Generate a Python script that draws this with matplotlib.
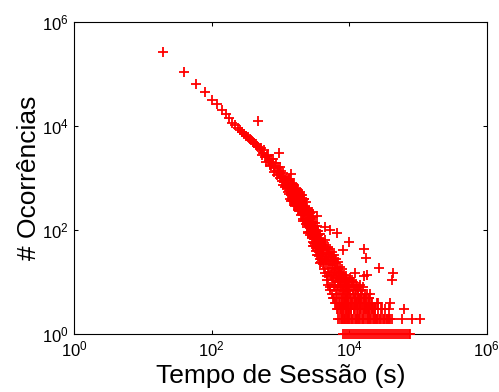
import matplotlib
matplotlib.use('Agg')
from matplotlib import pyplot as plt
from matplotlib.ticker import NullLocator

# ------------------------------ #
# session time histogram (bins of 20 s)

# clean head of the curve
head_t = [20, 40, 60, 80, 100, 120, 140, 160, 180, 200, 220, 240, 260,
          280, 300, 320, 340, 360, 380, 400, 420, 440, 460, 480, 500]
head_n = [266000, 107000, 63000, 44000, 32000, 26000, 20000, 17000, 14000,
          11500, 10200, 9200, 8400, 7700, 7100, 6500, 6100, 5700, 5300,
          5000, 4700, 4450, 4150, 3900, 3650]

# 520 s .. 1000 s
mid_t = [520, 540, 560, 580, 600, 620, 640, 660, 680, 700, 720, 740, 760,
         780, 800, 820, 840, 860, 880, 900, 920, 940, 960, 980, 1000]
mid_n = [3780, 2760, 3070, 3490, 2480, 2040, 2630, 2730, 2080, 1780, 2290,
         1690, 1910, 2300, 1590, 1280, 1720, 1900, 1370, 1150, 1630, 1170,
         1330, 1610, 1000]

# 1020 s .. 2000 s
band1_t = [1020, 1040, 1060, 1080, 1100, 1120, 1140, 1160, 1180, 1200,
           1220, 1240, 1260, 1280, 1300, 1320, 1340, 1360, 1380, 1400,
           1420, 1440, 1460, 1480, 1500, 1520, 1540, 1560, 1580, 1600,
           1620, 1640, 1660, 1680, 1700, 1720, 1740, 1760, 1780, 1800,
           1820, 1840, 1860, 1880, 1900, 1920, 1940, 1960, 1980, 2000]
band1_n = [1370, 890, 1050, 730, 1255, 855, 1030, 680, 905, 695,
           975, 635, 755, 530, 915, 950, 497, 668, 390, 950,
           522, 718, 383, 622, 417, 725, 382, 515, 301, 738,
           406, 562, 301, 490, 329, 574, 302, 410, 240, 589,
           326, 451, 242, 396, 266, 465, 246, 333, 196, 482]

band1b_t = [1410, 1430, 1450, 1470, 1490, 1510, 1530, 1550, 1570, 1590,
            1610, 1630, 1650, 1670, 1690, 1710, 1730, 1750, 1770, 1790,
            1810, 1830, 1850, 1870, 1890, 1910, 1930, 1950, 1970, 1990]
band1b_n = [475, 751, 365, 795, 507, 625, 366, 769, 426, 519,
            369, 586, 287, 625, 400, 494, 290, 611, 339, 415,
            295, 471, 231, 505, 323, 401, 235, 496, 276, 339]

# 2040 s .. 4000 s
band2_t = [2040, 2080, 2120, 2160, 2200, 2240, 2280, 2320, 2360, 2400,
           2440, 2480, 2520, 2560, 2600, 2640, 2680, 2720, 2760, 2800,
           2840, 2880, 2920, 2960, 3000, 3040, 3080, 3120, 3160, 3200,
           3240, 3280, 3320, 3360, 3400, 3440, 3480, 3520, 3560, 3600,
           3640, 3680, 3720, 3760, 3800, 3840, 3880, 3920, 3960, 4000]
band2_n = [464, 204, 288, 150, 403, 200, 283, 132, 228, 142,
           264, 117, 167, 88, 238, 119, 170, 80, 139, 88,
           181, 69, 107, 50, 176, 75, 116, 49, 94, 55,
           120, 46, 72, 33, 118, 51, 79, 33, 64, 38,
           83, 32, 50, 23, 83, 36, 56, 24, 46, 27]

band2b_t = [2060, 2100, 2140, 2180, 2220, 2260, 2300, 2340, 2380, 2420,
            2460, 2500, 2540, 2580, 2620, 2660, 2700, 2740, 2780, 2820,
            2860, 2900, 2940, 2980, 3020, 3060, 3100, 3140, 3180, 3220,
            3260, 3300, 3340, 3380, 3420, 3460, 3500, 3540, 3580, 3620,
            3660, 3700, 3740, 3780, 3820, 3860, 3900, 3940, 3980]
band2b_n = [232, 375, 160, 388, 225, 269, 148, 352, 167, 198,
            137, 220, 93, 229, 133, 161, 90, 214, 102, 122,
            85, 138, 59, 146, 86, 103, 57, 138, 67, 80,
            56, 92, 39, 98, 58, 71, 39, 95, 46, 56,
            39, 63, 28, 68, 41, 49, 28, 68, 33]

# 4100 s .. 10000 s
band3_t = [4100, 4200, 4300, 4400, 4500, 4600, 4700, 4800, 4900, 5000,
           5100, 5200, 5300, 5400, 5500, 5600, 5700, 5800, 5900, 6000,
           6100, 6200, 6300, 6400, 6500, 6600, 6700, 6800, 6900, 7000,
           7100, 7200, 7300, 7400, 7500, 7600, 7700, 7800, 7900, 8000,
           8100, 8200, 8300, 8400, 8500, 8600, 8700, 8800, 8900, 9000,
           9100, 9200, 9300, 9400, 9500, 9600, 9700, 9800, 9900, 10000]
band3_n = [60, 22, 41, 15, 66, 28, 35, 11, 48, 19,
           30, 8, 44, 14, 25, 6, 38, 12, 21, 5,
           33, 9, 17, 4, 28, 7, 13, 3, 24, 10,
           6, 16, 4, 20, 8, 3, 12, 5, 18, 2,
           9, 6, 14, 3, 7, 11, 4, 2, 8, 5,
           13, 3, 6, 9, 2, 4, 7, 10, 3, 5]

band3b_t = [4150, 4250, 4350, 4450, 4550, 4650, 4750, 4850, 4950, 5050,
            5150, 5250, 5350, 5450, 5550, 5650, 5750, 5850, 5950, 6050,
            6150, 6250, 6350, 6450, 6550, 6650, 6750, 6850, 6950, 7050,
            7150, 7250, 7350, 7450, 7550, 7650, 7750, 7850, 7950, 8050,
            8150, 8250, 8350, 8450, 8550, 8650, 8750, 8850, 8950, 9050,
            9150, 9250, 9350, 9450, 9550, 9650, 9750, 9850, 9950]
band3b_n = [35, 52, 18, 30, 24, 45, 13, 27, 9, 36,
            16, 22, 7, 31, 11, 19, 5, 26, 8, 15,
            4, 23, 6, 12, 3, 19, 5, 9, 2, 14,
            4, 8, 11, 3, 6, 15, 2, 9, 4, 12,
            3, 7, 5, 10, 2, 6, 8, 3, 12, 4,
            7, 2, 10, 5, 3, 8, 6, 2, 7]

# 10 ks .. 38 ks, low counts
tail_t = [10250, 10500, 10750, 11000, 11250, 11500, 11750, 12000, 12250,
          12500, 12750, 13000, 13250, 13500, 13750, 14000, 14250, 14500,
          14750, 15000, 15500, 16000, 16500, 17000, 17500, 18000, 18500,
          19000, 19500, 20000, 21000, 22000, 23000, 24000, 25000, 26000,
          28000, 30000, 32000, 35000, 38000]
tail_n = [12, 4, 8, 2, 6, 10, 3, 7, 5,
          2, 9, 4, 6, 3, 8, 2, 5, 4,
          7, 3, 6, 2, 5, 3, 4, 6, 2,
          3, 5, 2, 4, 3, 2, 3, 2, 4,
          2, 3, 2, 2, 2]

tail2_t = [10100, 10400, 10650, 10900, 11150, 11400, 11650, 11900, 12150,
           12400, 12650, 12900, 13150, 13400, 13650, 13900, 14150, 14400,
           14650, 14900, 15250, 15750, 16250, 16750, 17250, 17750, 18250,
           18750, 19250, 19750, 20500, 21500, 22500, 23500, 24500]
tail2_n = [9, 6, 3, 11, 4, 7, 5, 9, 3,
           6, 4, 8, 2, 5, 7, 4, 9, 3,
           5, 6, 4, 8, 3, 6, 4, 5, 3,
           4, 3, 5, 3, 4, 3, 3, 2]

# bins with 1, 2, 3, 4, 5 occurrences
one_t = [8100, 8700, 9300, 9900, 10600, 11400, 12100, 13000, 13900, 14800,
         15900, 17000, 18200, 19400, 20800, 22200, 23700, 25400, 27100,
         29000, 31000, 33200, 35500, 37900, 40600, 43400, 46400, 49600,
         53000, 56700, 60600, 64800, 69300, 74100, 76500]
two_t = [7340, 7850, 8400, 8980, 9610, 10280, 10990, 11750, 12560, 13430,
         14360, 15360, 16410, 17540, 18760, 20060, 21440, 22930, 24540,
         26240, 28050, 29990, 32060, 34280, 36640, 39170, 41880, 59600,
         81800, 106900]
three_t = [8000, 8900, 9800, 10800, 11900, 13100, 14500, 16000, 17600,
           19400, 21300, 23500, 26000, 29500, 33000, 37400, 62000]
four_t = [8500, 9700, 11100, 12700, 14600, 16800, 19300, 25300, 39000]
five_t = [9000, 10500, 12300, 14000, 16300]

# isolated points above the main band
out_t = [480, 960, 1420, 1920, 2880, 3400, 4450, 5260, 6650, 9900, 8130,
         16400, 17500, 27100, 43300, 41900, 12100, 16400, 18200, 20000]
out_n = [12400, 3060, 1190, 540, 222, 187, 114, 100, 88, 59, 41,
         43, 29, 19, 15, 11, 15, 13, 14, 6]


# ------------------------------ #

plt.rcParams['font.family'] = ['Liberation Sans', 'DejaVu Sans']
plt.rcParams['mathtext.fontset'] = 'custom'
plt.rcParams['mathtext.rm'] = 'Liberation Sans'
plt.rcParams['mathtext.default'] = 'regular'

fig = plt.figure(figsize=(4.99, 3.92), dpi=100)
ax = fig.add_axes([0.1483, 0.1472, 0.8271, 0.7974])

tempo = (head_t + mid_t + band1_t + band1b_t + band2_t + band2b_t
         + band3_t + band3b_t + tail_t + tail2_t + one_t + two_t
         + three_t + four_t + five_t + out_t)
ocorr = (head_n + mid_n + band1_n + band1b_n + band2_n + band2b_n
         + band3_n + band3b_n + tail_n + tail2_n
         + [1] * len(one_t) + [2] * len(two_t) + [3] * len(three_t)
         + [4] * len(four_t) + [5] * len(five_t) + out_n)

# markers drawn over the axes box, like the original
ax.plot(tempo, ocorr, '+', color='red', markersize=6.5, markeredgewidth=1.3,
        clip_on=False, zorder=3)

ax.set_xscale('log')
ax.set_yscale('log')
ax.set_xlim(1, 1e6)
ax.set_ylim(1, 1e6)
ax.set_xticks([1, 1e2, 1e4, 1e6])
ax.set_yticks([1, 1e2, 1e4, 1e6])
ax.xaxis.set_minor_locator(NullLocator())
ax.yaxis.set_minor_locator(NullLocator())

ax.tick_params(which='both', direction='in', top=True, right=True,
               length=3, width=0.75, labelsize=12, pad=4)
for sp in ax.spines.values():
    sp.set_linewidth(0.8)

ax.set_xlabel('Tempo de Sessão (s)', fontsize=19)
ax.set_ylabel('# Ocorrências', fontsize=19)
ax.xaxis.set_label_coords(0.5, -0.095)
ax.yaxis.set_label_coords(-0.08, 0.5)

fig.savefig('out.png', dpi=100)
